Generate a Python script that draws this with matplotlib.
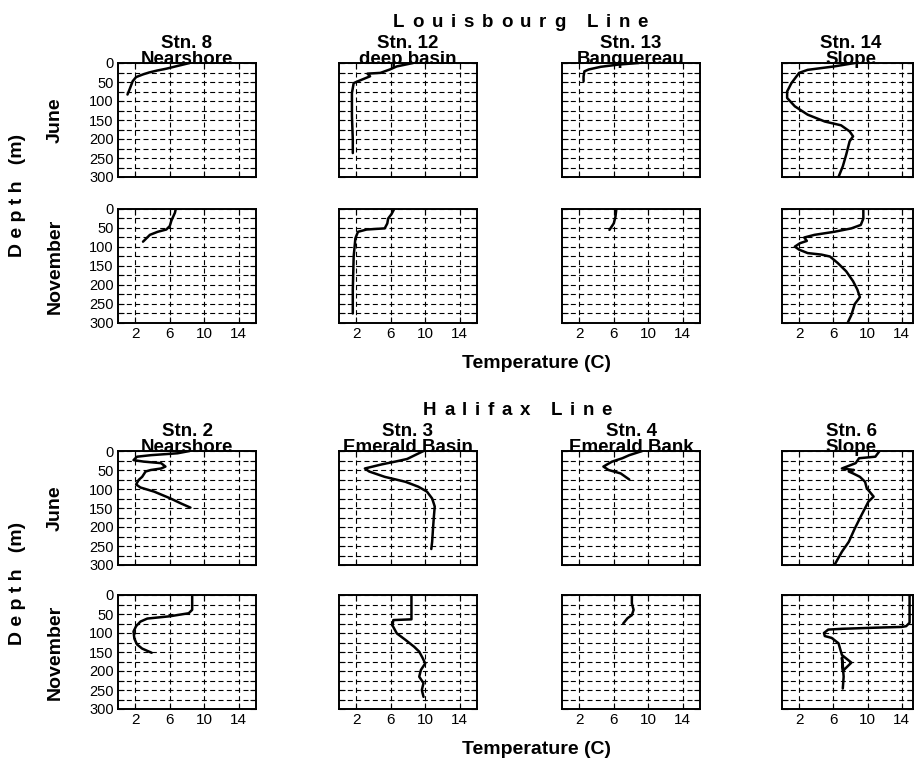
import matplotlib
matplotlib.use("Agg")
import matplotlib.pyplot as plt
from matplotlib.ticker import FixedLocator, MultipleLocator

plt.rcParams['font.family'] = ['Liberation Sans', 'DejaVu Sans']

# ---- temperature (C) / depth (m) profiles ----
# Louisbourg Line, June
lb8_jun_t = [8.3, 6.5, 5.6, 4.5, 3.6, 2.9, 2.1, 1.7, 1.4, 1.1]
lb8_jun_d = [0, 10, 15, 20, 25, 30, 37, 48, 66, 83]
lb12_jun_t = [8.6, 6.7, 5.9, 4.8, 3.3, 3.6, 2.2, 1.7, 1.5, 1.5, 1.6, 1.6]
lb12_jun_d = [0, 9, 17, 26, 28, 35, 48, 53, 79, 140, 202, 237]
lb13_jun_t = [8.9, 6.6, 4.5, 3.1, 2.6, 2.5, 2.5]
lb13_jun_d = [0, 4, 10, 17, 22, 35, 48]
lb14_jun_t = [8.5, 6.1, 3.0, 2.0, 1.1, 0.6, 0.6, 1.5, 3.0, 5.0, 6.9, 7.9, 8.3, 7.9, 7.5, 7.1, 6.6]
lb14_jun_d = [0, 9, 18, 26, 53, 75, 92, 114, 136, 154, 164, 180, 193, 206, 241, 272, 300]
# Louisbourg Line, November
lb8_nov_t = [6.7, 6.6, 6.4, 6.2, 6.0, 5.6, 4.6, 3.7, 2.9]
lb8_nov_d = [0, 10, 20, 30, 45, 54, 60, 68, 86]
lb12_nov_t = [6.4, 6.1, 5.7, 5.6, 5.3, 3.2, 2.2, 1.9, 1.7, 1.6, 1.6]
lb12_nov_d = [0, 13, 25, 38, 51, 54, 60, 77, 125, 213, 275]
lb13_nov_t = [6.3, 6.2, 6.0, 5.5]
lb13_nov_d = [0, 20, 38, 55]
lb14_nov_t = [9.5, 9.5, 9.2, 8.1, 6.1, 3.8, 2.6, 2.9, 2.1, 1.5, 2.0, 3.0, 4.6, 5.6, 6.5, 7.5, 8.3, 8.8, 9.1, 8.5, 8.1, 7.7]
lb14_nov_d = [0, 25, 42, 51, 60, 68, 75, 84, 90, 99, 107, 116, 120, 125, 142, 164, 190, 212, 232, 250, 279, 298]
# Halifax Line, June
hx2_jun_t = [8.3, 6.9, 3.8, 2.2, 1.8, 3.0, 5.0, 5.5, 5.0, 3.8, 3.2, 2.8, 2.4, 2.1, 2.6, 4.2, 6.1, 7.3, 8.4]
hx2_jun_d = [0, 6, 11, 15, 24, 28, 32, 41, 46, 50, 54, 68, 76, 88, 96, 107, 125, 138, 149]
hx3_jun_t = [9.8, 8.8, 7.9, 6.5, 5.0, 3.0, 3.5, 5.3, 7.7, 9.2, 10.2, 10.8, 11.1, 11.0, 10.9, 10.8, 10.7]
hx3_jun_d = [0, 11, 21, 28, 35, 46, 54, 68, 81, 94, 107, 125, 146, 173, 204, 239, 258]
hx4_jun_t = [9.3, 7.8, 7.0, 5.8, 4.8, 5.4, 6.8, 7.8]
hx4_jun_d = [0, 11, 19, 28, 41, 50, 59, 75]
hx6_jun_t = [11.4, 10.9, 9.0, 8.6, 7.0, 8.4, 7.8, 8.3, 9.1, 9.7, 9.9, 10.7, 10.1, 9.3, 8.5, 7.8, 7.0, 6.2]
hx6_jun_d = [0, 15, 19, 32, 46, 50, 54, 59, 68, 81, 98, 120, 133, 168, 204, 239, 265, 297]
# Halifax Line, November
hx2_nov_t = [8.6, 8.6, 8.2, 6.0, 3.4, 2.6, 2.1, 1.8, 1.9, 2.2, 2.8, 3.9]
hx2_nov_d = [0, 39, 48, 56, 62, 70, 82, 96, 115, 130, 141, 152]
hx3_nov_t = [8.4, 8.4, 6.3, 6.2, 6.7, 7.7, 8.7, 9.3, 9.7, 10.0, 9.5, 9.3, 9.8, 9.6, 9.8]
hx3_nov_d = [0, 64, 66, 80, 101, 118, 136, 149, 166, 180, 197, 215, 232, 250, 268]
hx4_nov_t = [8.1, 8.1, 8.3, 8.1, 7.6, 7.1]
hx4_nov_d = [0, 22, 39, 53, 61, 75]
hx6_nov_t = [14.9, 14.9, 14.5, 14.0, 10.9, 7.0, 5.4, 4.9, 5.0, 5.8, 6.6, 7.0, 8.1, 7.1, 7.0, 7.1, 7.2, 7.1]
hx6_nov_d = [0, 73, 82, 84, 86, 89, 91, 100, 108, 113, 127, 158, 178, 200, 165, 185, 215, 246]

lines = ["Louisbourg Line", "Halifax Line"]
stations = [["Stn. 8", "Stn. 12", "Stn. 13", "Stn. 14"],
            ["Stn. 2", "Stn. 3", "Stn. 4", "Stn. 6"]]
sites = [["Nearshore", "deep basin", "Banquereau", "Slope"],
         ["Nearshore", "Emerald Basin", "Emerald Bank", "Slope"]]
months = ["June", "November"]
temp_ticks = [2, 6, 10, 14]
depth_ticks = [0, 50, 100, 150, 200, 250, 300]
depth_labels = ["0", "50", "100", "150", "200", "250", "300"]

profiles = [
    [[(lb8_jun_t, lb8_jun_d), (lb12_jun_t, lb12_jun_d), (lb13_jun_t, lb13_jun_d), (lb14_jun_t, lb14_jun_d)],
     [(lb8_nov_t, lb8_nov_d), (lb12_nov_t, lb12_nov_d), (lb13_nov_t, lb13_nov_d), (lb14_nov_t, lb14_nov_d)]],
    [[(hx2_jun_t, hx2_jun_d), (hx3_jun_t, hx3_jun_d), (hx4_jun_t, hx4_jun_d), (hx6_jun_t, hx6_jun_d)],
     [(hx2_nov_t, hx2_nov_d), (hx3_nov_t, hx3_nov_d), (hx4_nov_t, hx4_nov_d), (hx6_nov_t, hx6_nov_d)]],
]

# ---- layout in pixels ----
W, H = 915, 763
fig = plt.figure(figsize=(W / 100, H / 100), dpi=100)
renderer = fig.canvas.get_renderer()

col_left = [118, 339, 562, 782]
col_w = [138, 138, 138, 131]
col_tmax = [16, 16, 16, 15.3]
row_top = [[63, 209], [451, 595]]
row_h = 114


def fx(x):
    return x / W


def fy(y):
    return 1 - y / H


def text_width(s, **kw):
    t = fig.text(0, 0, s, **kw)
    w = t.get_window_extent(renderer).width
    t.remove()
    return w


def tracked_title(s, cx, ybase, span, **kw):
    """Draw a title with extra letter spacing so it covers `span` pixels."""
    widths = []
    for ch in s:
        if ch == ' ':
            widths.append(text_width("i i", **kw) - text_width("ii", **kw))
        else:
            widths.append(text_width(ch, **kw))
    track = (span - sum(widths)) / (len(s) - 1)
    x = cx - span / 2
    for ch, w in zip(s, widths):
        if ch != ' ':
            fig.text(fx(x), fy(ybase), ch, ha='left', va='baseline', **kw)
        x += w + track


grid_style = dict(color='k', lw=0.8, ls=(0, (4.5, 3)))

for b in range(2):
    for m in range(2):
        for c in range(4):
            top = row_top[b][m]
            ax = fig.add_axes([fx(col_left[c]), fy(top + row_h), col_w[c] / W, row_h / H])
            t, d = profiles[b][m][c]
            ax.plot(t, d, color='k', lw=1.8, solid_joinstyle='round', solid_capstyle='round', zorder=3)
            ax.set_xlim(0, col_tmax[c])
            ax.set_ylim(300, 0)
            ax.xaxis.set_major_locator(FixedLocator(temp_ticks))
            ax.yaxis.set_major_locator(FixedLocator(depth_ticks))
            ax.yaxis.set_minor_locator(MultipleLocator(25))
            ax.grid(True, which='major', axis='x', **grid_style)
            ax.grid(True, which='both', axis='y', **grid_style)
            ax.tick_params(which='both', direction='in', top=True, right=True,
                           length=4, width=0.8, labelsize=11, pad=3)
            ax.tick_params(axis='y', labelsize=10.5)
            for s in ax.spines.values():
                s.set_linewidth(1.4)
            if c == 0:
                ax.set_yticklabels(depth_labels)
            else:
                ax.tick_params(labelleft=False)
            if m == 0:
                ax.tick_params(labelbottom=False)
            cx = col_left[c] + 69
            if m == 0:
                fig.text(fx(cx), fy(top - 15), stations[b][c], ha='center', va='baseline',
                         fontsize=13.5, fontweight='bold')
                fig.text(fx(cx), fy(top + 1), sites[b][c], ha='center', va='baseline',
                         fontsize=13.5, fontweight='bold')
            if c == 0:
                fig.text(fx(55), fy(top + row_h / 2), months[m], rotation=90, ha='center',
                         va='center', fontsize=14, fontweight='bold')

# block titles and axis labels
title_kw = dict(fontsize=13.5, fontweight='bold')
tracked_title(lines[0], 520.5, 27, 255, **title_kw)
tracked_title(lines[1], 517.5, 415, 189, **title_kw)
for yc in (195, 583):
    fig.text(fx(18), fy(yc), "D e p t h   (m)", rotation=90, ha='center', va='center',
             fontsize=14, fontweight='bold')
for yc in (363, 750):
    fig.text(fx(536), fy(yc), "Temperature (C)", ha='center', va='center',
             fontsize=14, fontweight='bold')

fig.savefig("out.png", dpi=100)
